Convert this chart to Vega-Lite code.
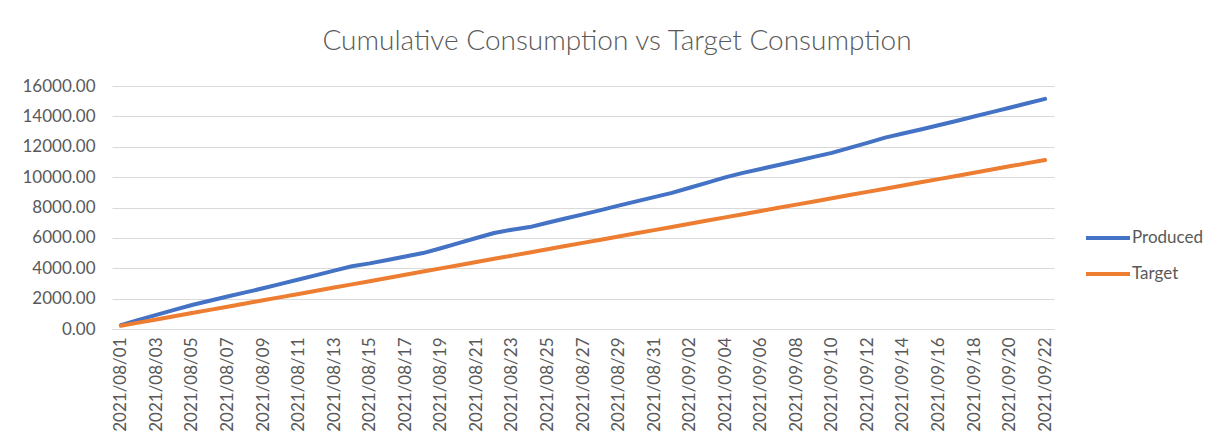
{
  "$schema": "https://vega.github.io/schema/vega-lite/v6.json",
  "width": 942,
  "height": 243,
  "autosize": {"type": "none"},
  "padding": {"left": 112, "top": 86, "right": 172, "bottom": 116},
  "background": "white",
  "title": {
    "text": "Cumulative Consumption vs Target Consumption",
    "font": "Lato",
    "fontSize": 28,
    "fontWeight": 300,
    "color": "#595959",
    "anchor": "middle",
    "dx": 34,
    "offset": 21
  },
  "data": {
    "values": [
      {"date": "2021/08/01", "Produced": 260, "Target": 210},
      {"date": "2021/08/02", "Produced": 600, "Target": 420},
      {"date": "2021/08/03", "Produced": 930, "Target": 630},
      {"date": "2021/08/04", "Produced": 1260, "Target": 840},
      {"date": "2021/08/05", "Produced": 1580, "Target": 1050},
      {"date": "2021/08/06", "Produced": 1860, "Target": 1260},
      {"date": "2021/08/07", "Produced": 2140, "Target": 1470},
      {"date": "2021/08/08", "Produced": 2410, "Target": 1680},
      {"date": "2021/08/09", "Produced": 2680, "Target": 1890},
      {"date": "2021/08/10", "Produced": 2970, "Target": 2100},
      {"date": "2021/08/11", "Produced": 3260, "Target": 2310},
      {"date": "2021/08/12", "Produced": 3550, "Target": 2520},
      {"date": "2021/08/13", "Produced": 3840, "Target": 2730},
      {"date": "2021/08/14", "Produced": 4130, "Target": 2940},
      {"date": "2021/08/15", "Produced": 4320, "Target": 3150},
      {"date": "2021/08/16", "Produced": 4540, "Target": 3360},
      {"date": "2021/08/17", "Produced": 4770, "Target": 3570},
      {"date": "2021/08/18", "Produced": 5000, "Target": 3780},
      {"date": "2021/08/19", "Produced": 5320, "Target": 3990},
      {"date": "2021/08/20", "Produced": 5650, "Target": 4200},
      {"date": "2021/08/21", "Produced": 5990, "Target": 4410},
      {"date": "2021/08/22", "Produced": 6320, "Target": 4620},
      {"date": "2021/08/23", "Produced": 6540, "Target": 4830},
      {"date": "2021/08/24", "Produced": 6710, "Target": 5040},
      {"date": "2021/08/25", "Produced": 7000, "Target": 5250},
      {"date": "2021/08/26", "Produced": 7280, "Target": 5460},
      {"date": "2021/08/27", "Produced": 7550, "Target": 5670},
      {"date": "2021/08/28", "Produced": 7830, "Target": 5880},
      {"date": "2021/08/29", "Produced": 8120, "Target": 6090},
      {"date": "2021/08/30", "Produced": 8400, "Target": 6300},
      {"date": "2021/08/31", "Produced": 8680, "Target": 6510},
      {"date": "2021/09/01", "Produced": 8960, "Target": 6720},
      {"date": "2021/09/02", "Produced": 9300, "Target": 6930},
      {"date": "2021/09/03", "Produced": 9640, "Target": 7140},
      {"date": "2021/09/04", "Produced": 9980, "Target": 7350},
      {"date": "2021/09/05", "Produced": 10280, "Target": 7560},
      {"date": "2021/09/06", "Produced": 10540, "Target": 7770},
      {"date": "2021/09/07", "Produced": 10800, "Target": 7980},
      {"date": "2021/09/08", "Produced": 11060, "Target": 8190},
      {"date": "2021/09/09", "Produced": 11330, "Target": 8400},
      {"date": "2021/09/10", "Produced": 11600, "Target": 8610},
      {"date": "2021/09/11", "Produced": 11930, "Target": 8820},
      {"date": "2021/09/12", "Produced": 12260, "Target": 9030},
      {"date": "2021/09/13", "Produced": 12600, "Target": 9240},
      {"date": "2021/09/14", "Produced": 12870, "Target": 9450},
      {"date": "2021/09/15", "Produced": 13140, "Target": 9660},
      {"date": "2021/09/16", "Produced": 13420, "Target": 9870},
      {"date": "2021/09/17", "Produced": 13700, "Target": 10080},
      {"date": "2021/09/18", "Produced": 13990, "Target": 10290},
      {"date": "2021/09/19", "Produced": 14280, "Target": 10500},
      {"date": "2021/09/20", "Produced": 14570, "Target": 10710},
      {"date": "2021/09/21", "Produced": 14860, "Target": 10920},
      {"date": "2021/09/22", "Produced": 15150, "Target": 11130}
    ]
  },
  "transform": [
    {"fold": ["Produced", "Target"], "as": ["series", "value"]}
  ],
  "mark": {"type": "line", "strokeWidth": 4, "strokeCap": "round", "strokeJoin": "round"},
  "encoding": {
    "x": {
      "field": "date",
      "type": "ordinal",
      "sort": null,
      "title": null,
      "scale": {"type": "point", "padding": 0.5},
      "axis": {
        "values": ["2021/08/01","2021/08/03","2021/08/05","2021/08/07","2021/08/09","2021/08/11","2021/08/13","2021/08/15","2021/08/17","2021/08/19","2021/08/21","2021/08/23","2021/08/25","2021/08/27","2021/08/29","2021/08/31","2021/09/02","2021/09/04","2021/09/06","2021/09/08","2021/09/10","2021/09/12","2021/09/14","2021/09/16","2021/09/18","2021/09/20","2021/09/22"],
        "labelAngle": -90,
        "labelAlign": "right",
        "labelBaseline": "middle",
        "labelPadding": 8,
        "labelFont": "Lato",
        "labelFontSize": 17,
        "labelColor": "#595959",
        "ticks": false,
        "domain": true,
        "domainColor": "#d9d9d9",
        "domainWidth": 1,
        "grid": false,
        "labelOverlap": false
      }
    },
    "y": {
      "field": "value",
      "type": "quantitative",
      "title": null,
      "scale": {"domain": [0, 16000], "nice": false},
      "axis": {
        "values": [0, 2000, 4000, 6000, 8000, 10000, 12000, 14000, 16000],
        "format": ".2f",
        "labelFont": "Lato",
        "labelFontSize": 17,
        "labelColor": "#595959",
        "labelPadding": 17,
        "ticks": false,
        "domain": false,
        "grid": true,
        "gridColor": "#d9d9d9",
        "gridWidth": 1
      }
    },
    "color": {
      "field": "series",
      "type": "nominal",
      "scale": {"domain": ["Produced", "Target"], "range": ["#4472C4", "#ED7D31"]},
      "legend": {
        "title": null,
        "orient": "none",
        "legendX": 972,
        "legendY": 128,
        "symbolType": "stroke",
        "symbolStrokeWidth": 4,
        "symbolSize": 1936,
        "labelFont": "Lato",
        "labelFontSize": 17,
        "labelColor": "#595959",
        "labelOffset": 0,
        "rowPadding": 4
      }
    }
  },
  "config": {
    "view": {"stroke": null}
  }
}
